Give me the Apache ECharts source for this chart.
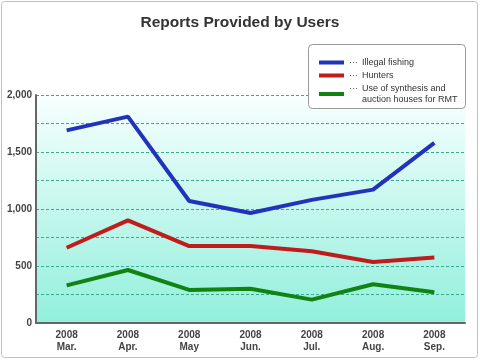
<!DOCTYPE html>
<html><head><meta charset="utf-8">
<script src="https://cdn.jsdelivr.net/npm/echarts@6/dist/echarts.min.js"></script>
<style>html,body{margin:0;padding:0;background:#fff}#c{width:480px;height:360px}</style>
</head><body><div id="c"></div>
<script>
const categories = ['2008\nMar.','2008\nApr.','2008\nMay','2008\nJun.','2008\nJul.','2008\nAug.','2008\nSep.'];
const illegalFishing = [1690, 1810, 1070, 965, 1080, 1170, 1580];
const hunters = [660, 900, 675, 675, 630, 535, 575];
const synthesisRMT = [330, 465, 290, 300, 205, 340, 270];
const seriesNames = ['Illegal fishing','Hunters','Use of synthesis and\nauction houses for RMT'];
const yTicks = [0, 500, 1000, 1500, 2000];

const font = '"Liberation Sans", Arial, sans-serif';
const lfont = '"Liberation Sans", Arial, sans-serif';

const chart = echarts.init(document.getElementById('c'));
const colors = ['#2233bb', '#c01c1c', '#128212'];
chart.setOption({
  animation: false,
  title: { text: 'Reports Provided by Users', left: 'center', top: 10,
    textStyle: { fontFamily: font, fontSize: 15.5, fontWeight: 'bold', color: '#333' } },
  graphic: [
    { type: 'rect', shape: { x: 1.5, y: 1.5, width: 476, height: 356, r: 3 }, style: { fill: 'none', stroke: '#c0c0c0', lineWidth: 1 }, z: 0 },
    { type: 'rect', shape: { x: 308.5, y: 44.5, width: 157, height: 64, r: 4 }, style: { fill: '#fff', stroke: '#999', lineWidth: 1 }, z: 5 }
  ],
  legend: {
    orient: 'vertical', left: 314, top: 52, itemWidth: 25, itemHeight: 4, itemGap: 2,
    icon: 'rect', z: 10,
    formatter: n => n.split('\n').map((l, i) => (i === 0 ? '{d|···}' : '{d|}') + '{t|' + l + '}').join('\n'),
    textStyle: { fontFamily: lfont, fontSize: 9, color: '#333', lineHeight: 11,
      rich: { d: { width: 13, fontSize: 9, color: '#555', fontFamily: font, lineHeight: 11 },
              t: { fontSize: 9, color: '#333', fontFamily: lfont, lineHeight: 11 } } },
    data: seriesNames
  },
  grid: { left: 36, right: 15, top: 95, bottom: 37, show: true, borderWidth: 0,
    backgroundColor: { type: 'linear', x: 0, y: 0, x2: 0, y2: 1, colorStops: [{ offset: 0, color: '#f7fffe' }, { offset: 1, color: '#92efdc' }] } },
  xAxis: {
    type: 'category', data: categories, boundaryGap: true,
    axisLine: { lineStyle: { color: '#666', width: 2 } },
    axisTick: { inside: true, length: 5, lineStyle: { color: '#666', width: 2 } },
    axisLabel: { fontFamily: font, fontSize: 10, fontWeight: 'bold', color: '#444', lineHeight: 12, margin: 6 }
  },
  yAxis: {
    type: 'value', min: 0, max: 2000, interval: 250,
    axisLine: { show: true, lineStyle: { color: '#666', width: 2 } },
    axisTick: { show: false },
    axisLabel: { fontFamily: font, fontSize: 10, fontWeight: 'bold', color: '#444', margin: 4,
      formatter: v => yTicks.includes(v) ? v.toLocaleString('en-US') : '' },
    splitLine: { lineStyle: { color: '#3aaa90', type: [3, 2], width: 1 } }
  },
  series: [
    { name: seriesNames[0], type: 'line', data: illegalFishing, symbol: 'none', lineStyle: { width: 4, color: colors[0] }, itemStyle: { color: colors[0] }, z: 3 },
    { name: seriesNames[1], type: 'line', data: hunters, symbol: 'none', lineStyle: { width: 4, color: colors[1] }, itemStyle: { color: colors[1] }, z: 3 },
    { name: seriesNames[2], type: 'line', data: synthesisRMT, symbol: 'none', lineStyle: { width: 4, color: colors[2] }, itemStyle: { color: colors[2] }, z: 3 }
  ]
});
</script></body></html>
